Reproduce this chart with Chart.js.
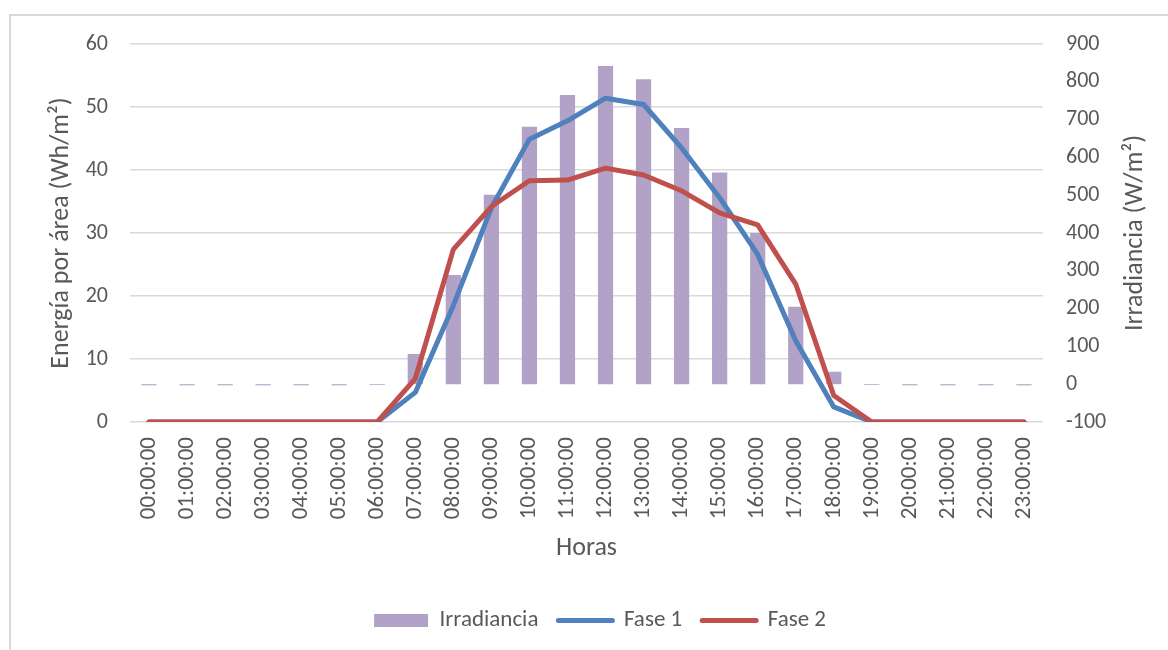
<!DOCTYPE html>
<html>
<head>
<meta charset="utf-8">
<script src="https://cdn.jsdelivr.net/npm/chart.js@4.4.0/dist/chart.umd.min.js"></script>
<style>
  html, body { margin: 0; padding: 0; background: #fff; }
  #wrap { position: relative; width: 1168px; height: 650px; }
  #frame { position: absolute; left: 9px; top: 14px; right: 0; bottom: 0; border-left: 2px solid #d9d9d9; border-top: 2px solid #d9d9d9; }
  canvas { position: absolute; left: 0; top: 0; }
</style>
</head>
<body>
<div id="wrap">
  <div id="frame"></div>
  <canvas id="c" width="1168" height="650"></canvas>
</div>
<script>
const hours = ["00:00:00","01:00:00","02:00:00","03:00:00","04:00:00","05:00:00","06:00:00","07:00:00","08:00:00","09:00:00","10:00:00","11:00:00","12:00:00","13:00:00","14:00:00","15:00:00","16:00:00","17:00:00","18:00:00","19:00:00","20:00:00","21:00:00","22:00:00","23:00:00"];
const irradiancia = [-3,-3,-3,-3,-3,-3,-2,80,289,501,681,765,842,807,678,560,400,205,33,-2,-3,-3,-3,-3];
const fase1 = [0,0,0,0,0,0,0,4.7,18.5,34,44.9,47.8,51.4,50.4,43.5,35.6,26.6,12.9,2.4,0,0,0,0,0];
const fase2 = [0,0,0,0,0,0,0,6.9,27.4,34.2,38.3,38.4,40.3,39.2,36.7,33.2,31.3,21.9,4.2,0,0,0,0,0];
const leftTicks = [0,10,20,30,40,50,60];
const rightTicks = [-100,0,100,200,300,400,500,600,700,800,900];
const rightTitle = 'Irradiancia (W/m²)';

const FONT = "Carlito, Lato, 'Open Sans', sans-serif";
const TXT = "#595959";

const rightTitlePlugin = {
  id: 'rightTitle',
  afterDraw(chart) {
    const ctx = chart.ctx;
    const a = chart.chartArea;
    ctx.save();
    ctx.translate(1135, (a.top + a.bottom) / 2);
    ctx.rotate(-Math.PI / 2);
    ctx.fillStyle = TXT;
    ctx.font = "26px " + FONT;
    ctx.textAlign = 'center';
    ctx.textBaseline = 'middle';
    ctx.fillText(rightTitle, 0, 0);
    ctx.restore();
  }
};

new Chart(document.getElementById('c'), {
  type: 'bar',
  data: {
    labels: hours,
    datasets: [
      { label: 'Irradiancia', data: irradiancia, yAxisID: 'y1', backgroundColor: '#b2a2c7', borderWidth: 0,
        barPercentage: 0.4, categoryPercentage: 1.0, order: 3 },
      { label: 'Fase 1', type: 'line', data: fase1, yAxisID: 'y', borderColor: '#4f81bd', backgroundColor: '#4f81bd',
        borderWidth: 5, pointRadius: 0, tension: 0, borderJoinStyle: 'round', borderCapStyle: 'round', order: 2 },
      { label: 'Fase 2', type: 'line', data: fase2, yAxisID: 'y', borderColor: '#c0504d', backgroundColor: '#c0504d',
        borderWidth: 5, pointRadius: 0, tension: 0, borderJoinStyle: 'round', borderCapStyle: 'round', order: 1 }
    ]
  },
  plugins: [rightTitlePlugin],
  options: {
    responsive: false,
    animation: false,
    layout: { padding: { top: 44, left: 32, right: 0, bottom: 8 } },
    plugins: {
      tooltip: { enabled: false },
      legend: {
        position: 'bottom',
        labels: {
          color: TXT,
          font: { family: FONT, size: 23 },
          usePointStyle: true,
          pointStyleWidth: 54,
          boxHeight: 13,
          padding: 20,
          generateLabels(chart) {
            return chart.data.datasets.map((ds, i) => ({
              text: ds.label,
              fillStyle: ds.backgroundColor,
              strokeStyle: ds.type === 'line' ? ds.borderColor : ds.backgroundColor,
              lineWidth: ds.type === 'line' ? 5 : 0,
              lineCap: 'round',
              pointStyle: ds.type === 'line' ? 'line' : 'rect',
              fontColor: TXT,
              hidden: false,
              datasetIndex: i
            }));
          }
        }
      }
    },
    scales: {
      x: {
        grid: { display: false, drawTicks: false },
        border: { display: false },
        ticks: { color: TXT, font: { family: FONT, size: 23 }, minRotation: 90, maxRotation: 90, padding: 15, autoSkip: false },
        title: { display: true, text: 'Horas', color: TXT, font: { family: FONT, size: 26 }, padding: { top: 4, bottom: 25 } },
        afterFit(s) { s.height = 167; }
      },
      y: {
        position: 'left',
        min: 0, max: 60,
        afterBuildTicks(s) { s.ticks = leftTicks.map(v => ({ value: v })); },
        grid: { color: '#d9d9d9', lineWidth: 1.5, drawTicks: false },
        border: { display: false },
        ticks: { color: TXT, font: { family: FONT, size: 22 }, padding: 22 },
        title: { display: true, text: 'Energía por área (Wh/m²)', color: TXT, font: { family: FONT, size: 26 }, padding: { top: 14, bottom: 0 } },
        afterFit(s) { s.width = 98; }
      },
      y1: {
        position: 'right',
        min: -100, max: 900,
        afterBuildTicks(s) { s.ticks = rightTicks.map(v => ({ value: v })); },
        grid: { display: false, drawTicks: false },
        border: { display: false },
        ticks: { color: TXT, font: { family: FONT, size: 22 }, padding: 23 },
        title: { display: false },
        afterFit(s) { s.width = 125; }
      }
    }
  }
});
</script>
</body>
</html>
